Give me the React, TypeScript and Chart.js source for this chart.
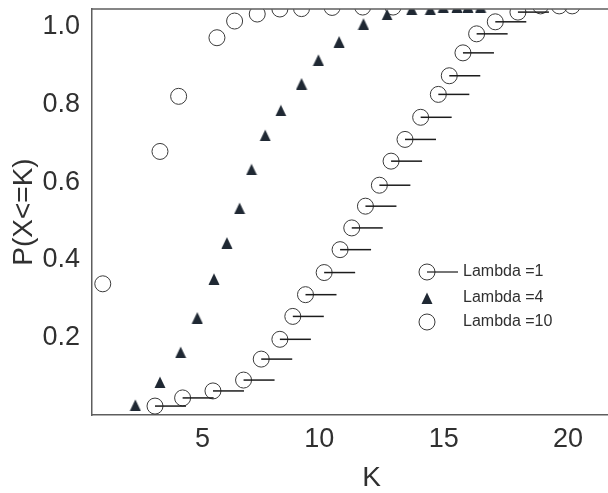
import React, { useEffect, useRef } from "react";
import { Chart, registerables } from "chart.js";

Chart.register(...registerables);

// ---- data ----
const lambda1K = [2.79, 3.90, 5.12, 6.35, 7.06, 7.81, 8.33, 8.84, 9.59, 10.23, 10.70, 11.25, 11.81, 12.28, 12.84, 13.47, 14.18, 14.62, 15.17, 15.72, 16.47, 17.38, 18.29, 19.04, 19.56];
const lambda1P = [0.023, 0.044, 0.062, 0.090, 0.144, 0.195, 0.254, 0.310, 0.367, 0.426, 0.482, 0.538, 0.592, 0.654, 0.710, 0.767, 0.826, 0.874, 0.933, 0.982, 1.013, 1.038, 1.054, 1.054, 1.054];

const lambda4K = [2.00, 2.99, 3.82, 4.49, 5.16, 5.68, 6.19, 6.67, 7.22, 7.85, 8.68, 9.36, 10.19, 11.17, 12.12, 13.11, 13.86, 14.38, 14.93, 15.37, 15.88];
const lambda4P = [0.026, 0.085, 0.162, 0.251, 0.351, 0.444, 0.533, 0.633, 0.721, 0.785, 0.854, 0.915, 0.962, 1.008, 1.032, 1.046, 1.046, 1.052, 1.052, 1.052, 1.052];

const lambda10K = [0.69, 2.99, 3.74, 5.28, 5.99, 6.90, 7.81, 8.68, 9.91, 11.14, 12.36];
const lambda10P = [0.338, 0.679, 0.821, 0.972, 1.015, 1.033, 1.046, 1.047, 1.050, 1.051, 1.051];

const seriesLabels = ["Lambda =1", "Lambda =4", "Lambda =10"];
const xTickValues = [5, 10, 15, 20];
const yTickValues = [0.2, 0.4, 0.6, 0.8, 1.0];
const xTitle = "K";
const yTitle = "P(X<=K)";

// ---- styles ----
const FONT = "'Liberation Sans', Arial, Helvetica, sans-serif";
const TEXT = "#303030";
const AXIS = "#5e5e5e";
const MARK = "#3a3a3a";
const TRI = "#1f2833";
const STEP = "#1c1c1c";

function makeTriangle(): HTMLCanvasElement {
  const c = document.createElement("canvas");
  c.width = 12;
  c.height = 12;
  const g = c.getContext("2d")!;
  g.fillStyle = TRI;
  g.beginPath();
  g.moveTo(6, 0.5);
  g.lineTo(11.5, 12);
  g.lineTo(0.5, 12);
  g.closePath();
  g.fill();
  return c;
}

const zip = (xs: number[], ys: number[]) => xs.map((x, i) => ({ x, y: ys[i] }));

export default function App() {
  const ref = useRef<HTMLCanvasElement>(null);

  useEffect(() => {
    if (!ref.current) return;
    const tri = makeTriangle();
    const stepLen = 31;

    const stepTicks = {
      id: "stepTicks",
      afterDatasetsDraw(chart: any) {
        const { ctx, chartArea: a } = chart;
        const meta = chart.getDatasetMeta(0);
        ctx.save();
        ctx.beginPath();
        ctx.rect(a.left, a.top, a.right - a.left, a.bottom - a.top);
        ctx.clip();
        ctx.strokeStyle = STEP;
        ctx.lineWidth = 1.5;
        meta.data.forEach((p: any) => {
          ctx.beginPath();
          ctx.moveTo(p.x, p.y);
          ctx.lineTo(p.x + stepLen, p.y);
          ctx.stroke();
        });
        ctx.restore();
        // top frame line
        ctx.save();
        ctx.strokeStyle = AXIS;
        ctx.lineWidth = 1.5;
        ctx.beginPath();
        ctx.moveTo(a.left, a.top);
        ctx.lineTo(a.right, a.top);
        ctx.stroke();
        ctx.restore();
      },
    };

    const innerLegend = {
      id: "innerLegend",
      afterDraw(chart: any) {
        const { ctx, chartArea: a } = chart;
        const mx = a.left + 335;
        const tx = a.left + 371;
        const rows = [a.top + 263, a.top + 289, a.top + 313];
        ctx.save();
        ctx.font = `16px ${FONT}`;
        ctx.fillStyle = TEXT;
        ctx.textBaseline = "middle";
        ctx.textAlign = "left";
        chart.data.datasets.forEach((ds: any, i: number) => {
          const y = rows[i];
          if (i === 1) {
            ctx.drawImage(tri, mx - tri.width / 2, y - tri.height / 2);
          } else {
            ctx.strokeStyle = MARK;
            ctx.lineWidth = 1;
            ctx.beginPath();
            ctx.arc(mx, y, 8, 0, Math.PI * 2);
            ctx.stroke();
            if (i === 0) {
              ctx.strokeStyle = STEP;
              ctx.lineWidth = 1.2;
              ctx.beginPath();
              ctx.moveTo(mx, y);
              ctx.lineTo(mx + stepLen, y);
              ctx.stroke();
            }
          }
          ctx.fillStyle = TEXT;
          ctx.fillText(ds.label, tx, y);
        });
        ctx.restore();
      },
    };

    const chart = new Chart(ref.current, {
      type: "scatter",
      data: {
        datasets: [
          {
            label: seriesLabels[0],
            data: zip(lambda1K, lambda1P),
            pointStyle: "circle",
            pointRadius: 8,
            pointBorderWidth: 1,
            pointBorderColor: MARK,
            pointBackgroundColor: "rgba(0,0,0,0)",
            showLine: false,
            clip: 0,
          },
          {
            label: seriesLabels[1],
            data: zip(lambda4K, lambda4P),
            pointStyle: tri,
            pointRadius: 6,
            showLine: false,
            clip: 0,
          },
          {
            label: seriesLabels[2],
            data: zip(lambda10K, lambda10P),
            pointStyle: "circle",
            pointRadius: 8,
            pointBorderWidth: 1,
            pointBorderColor: MARK,
            pointBackgroundColor: "rgba(0,0,0,0)",
            showLine: false,
            clip: 0,
          },
        ],
      } as any,
      options: {
        animation: false,
        responsive: false,
        events: [],
        layout: { padding: { top: 7, right: 0, bottom: 0, left: 0 } },
        plugins: {
          legend: { display: false },
          tooltip: { enabled: false },
        },
        scales: {
          x: {
            type: "linear",
            min: 0.257,
            max: 22.73,
            afterBuildTicks: (s: any) => {
              s.ticks = xTickValues.map((v) => ({ value: v }));
            },
            afterFit: (s: any) => {
              s.height = 78;
              s.paddingLeft = 0;
              s.paddingRight = 0;
            },
            grid: { display: false, drawTicks: false },
            border: { display: true, color: AXIS, width: 1.5 },
            ticks: {
              align: "end",
              color: TEXT,
              padding: 8,
              maxRotation: 0,
              font: { size: 27, family: FONT },
              callback: (v: any) => String(v),
            },
            title: {
              display: true,
              text: xTitle,
              color: TEXT,
              font: { size: 28, family: FONT, lineHeight: 1 },
              padding: { top: 0, bottom: 1 },
            },
          },
          y: {
            type: "linear",
            min: 0,
            max: 1.046,
            afterBuildTicks: (s: any) => {
              s.ticks = yTickValues.map((v) => ({ value: v }));
            },
            afterFit: (s: any) => {
              s.width = 92;
              s.paddingTop = 0;
              s.paddingBottom = 0;
            },
            grid: { display: false, drawTicks: false },
            border: { display: true, color: AXIS, width: 1.5 },
            ticks: {
              color: TEXT,
              padding: 12,
              font: { size: 27, family: FONT },
              callback: (v: any) => Number(v).toFixed(1),
            },
            title: {
              display: true,
              text: yTitle,
              color: TEXT,
              font: { size: 28, family: FONT, lineHeight: 1 },
              padding: { top: 10, bottom: 0 },
            },
          },
        },
      } as any,
      plugins: [stepTicks, innerLegend],
    });

    return () => chart.destroy();
  }, []);

  return (
    <div
      style={{
        position: "fixed",
        left: 0,
        top: 0,
        width: 608,
        height: 493,
        overflow: "hidden",
        background: "#fff",
      }}
    >
      <canvas ref={ref} width={660} height={493} style={{ display: "block" }} />
    </div>
  );
}
